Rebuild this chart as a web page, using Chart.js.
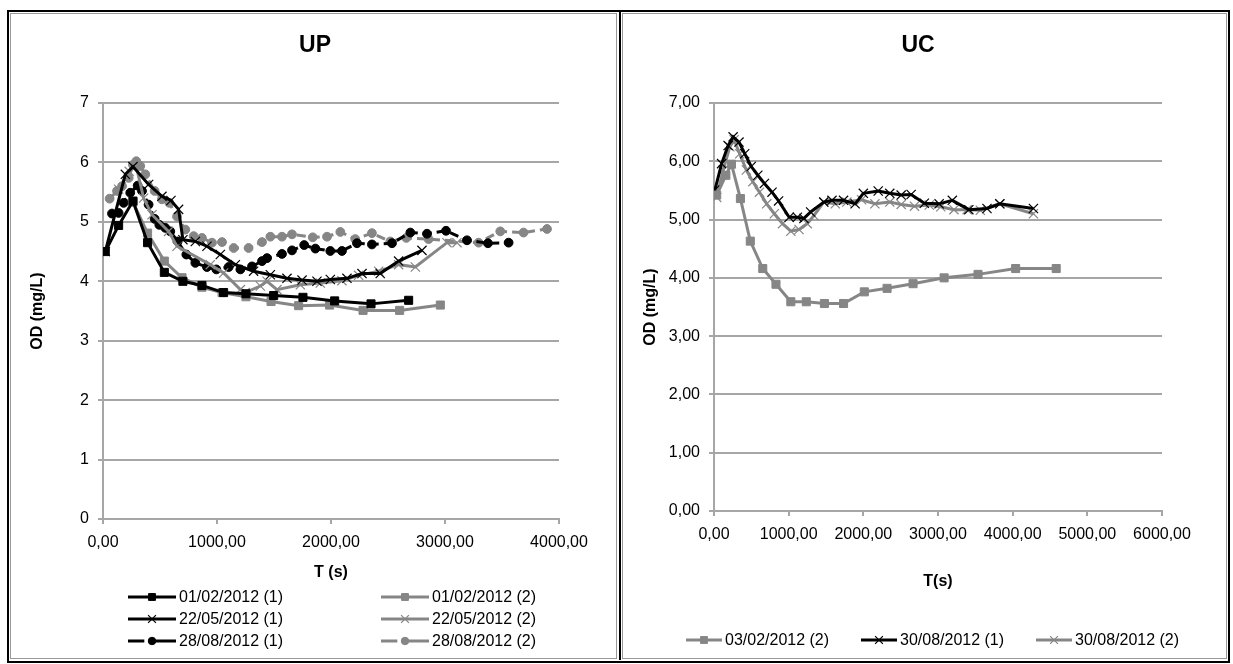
<!DOCTYPE html>
<html lang="en">
<head>
<meta charset="UTF-8">
<title>UP / UC</title>
<script src="https://cdn.jsdelivr.net/npm/chart.js"></script>
<style>
  body { margin: 0; background: #fff; }
  .page { position: relative; width: 1233px; height: 664px; }
  .frame { position: absolute; left: 7px; top: 10px; width: 1219px; height: 649px; border: 2px solid #000; }
  .cell { position: absolute; top: 13px; height: 644px; border: 1px solid #999; }
  .cell.left { left: 10px; width: 605px; }
  .cell.right { left: 622px; width: 603px; }
  .sep { position: absolute; left: 619px; top: 12px; width: 2px; height: 648px; background: #000; }
  canvas { position: absolute; top: 13px; }
</style>
</head>
<body>
<div class="page">
  <div class="frame"></div>
  <div class="cell left"></div>
  <div class="sep"></div>
  <div class="cell right"></div>
  <canvas id="upChart" width="604" height="645" style="left:10px"></canvas>
  <canvas id="ucChart" width="603" height="645" style="left:623px"></canvas>
</div>
<script>
// ---- UP data ----
const upLabels = ['01/02/2012 (1)', '01/02/2012 (2)', '22/05/2012 (1)', '22/05/2012 (2)', '28/08/2012 (1)', '28/08/2012 (2)'];

const up0102a_t = [20, 137, 263, 391, 538, 701, 868, 1058, 1254, 1497, 1754, 2032, 2351, 2681];
const up0102a_od = [4.50, 4.94, 5.35, 4.65, 4.15, 4.00, 3.93, 3.81, 3.79, 3.76, 3.73, 3.67, 3.62, 3.68];

const up0102b_t = [263, 391, 538, 693, 868, 1044, 1254, 1474, 1716, 1988, 2281, 2602, 2959];
const up0102b_od = [5.33, 4.81, 4.34, 4.06, 3.90, 3.81, 3.74, 3.66, 3.59, 3.60, 3.51, 3.51, 3.60];

const up2205a_t = [20, 196, 263, 400, 517, 596, 663, 701, 810, 912, 1029, 1161, 1321, 1468, 1614, 1746, 1877, 1994, 2140, 2272, 2432, 2593, 2798];
const up2205a_od = [4.50, 5.80, 5.93, 5.63, 5.43, 5.36, 5.21, 4.70, 4.67, 4.59, 4.45, 4.28, 4.17, 4.11, 4.05, 4.02, 4.00, 4.03, 4.05, 4.13, 4.13, 4.34, 4.52];

const up2205b_t = [137, 230, 290, 356, 430, 575, 649, 941, 1058, 1205, 1248, 1380, 1439, 1526, 1731, 1906, 2096, 2242, 2418, 2593, 2740, 3017, 3105];
const up2205b_od = [5.55, 5.85, 5.95, 5.40, 5.12, 4.84, 4.59, 4.28, 4.14, 3.86, 3.81, 3.92, 4.00, 3.86, 3.94, 3.97, 4.01, 4.10, 4.17, 4.28, 4.24, 4.65, 4.65];

const up2808a_t = [79, 137, 181, 239, 304, 342, 400, 453, 494, 546, 590, 655, 731, 810, 912, 994, 1102, 1205, 1307, 1395, 1439, 1570, 1658, 1765, 1863, 1994, 2096, 2228, 2359, 2535, 2696, 2842, 3009, 3193, 3377, 3558];
const up2808a_od = [5.14, 5.15, 5.32, 5.49, 5.61, 5.52, 5.29, 5.05, 4.95, 4.90, 4.84, 4.67, 4.45, 4.31, 4.24, 4.20, 4.24, 4.20, 4.25, 4.34, 4.39, 4.46, 4.52, 4.61, 4.55, 4.51, 4.51, 4.64, 4.62, 4.64, 4.82, 4.80, 4.85, 4.69, 4.64, 4.65];

const up2808b_t = [58, 123, 167, 225, 263, 292, 327, 371, 453, 517, 582, 649, 722, 795, 868, 956, 1044, 1146, 1277, 1395, 1468, 1570, 1658, 1840, 1965, 2082, 2213, 2359, 2520, 2661, 2856, 3295, 3485, 3689, 3895];
const up2808b_od = [5.39, 5.52, 5.60, 5.74, 5.96, 6.02, 5.94, 5.80, 5.52, 5.38, 5.32, 5.09, 4.87, 4.76, 4.73, 4.65, 4.66, 4.56, 4.56, 4.66, 4.75, 4.75, 4.79, 4.74, 4.75, 4.83, 4.71, 4.81, 4.67, 4.73, 4.71, 4.65, 4.84, 4.82, 4.88];

// ---- UC data ----
const ucLabels = ['03/02/2012 (2)', '30/08/2012 (1)', '30/08/2012 (2)'];

const uc0302b_t = [36, 159, 234, 354, 486, 653, 830, 1029, 1236, 1479, 1735, 2013, 2318, 2666, 3082, 3536, 4040, 4583];
const uc0302b_od = [5.42, 5.76, 5.95, 5.36, 4.63, 4.16, 3.89, 3.59, 3.59, 3.56, 3.56, 3.76, 3.82, 3.90, 4.00, 4.06, 4.16, 4.16];

const uc3008a_t = [13, 102, 189, 256, 335, 411, 499, 587, 675, 777, 865, 1007, 1117, 1205, 1294, 1470, 1580, 1735, 1890, 2000, 2199, 2354, 2507, 2640, 2817, 3015, 3192, 3413, 3656, 3828, 4278];
const uc3008a_od = [5.51, 5.96, 6.27, 6.42, 6.33, 6.13, 5.91, 5.76, 5.62, 5.47, 5.32, 5.04, 5.04, 5.02, 5.13, 5.30, 5.33, 5.33, 5.27, 5.45, 5.49, 5.45, 5.42, 5.43, 5.28, 5.27, 5.33, 5.17, 5.19, 5.27, 5.19];

const uc3008b_t = [36, 123, 212, 269, 344, 433, 521, 609, 706, 808, 918, 1029, 1139, 1249, 1338, 1470, 1625, 1779, 1977, 2155, 2354, 2507, 2685, 2883, 3037, 3214, 3391, 3567, 3828, 4278];
const uc3008b_od = [5.38, 5.85, 6.25, 6.37, 6.13, 5.85, 5.65, 5.47, 5.27, 5.10, 4.93, 4.80, 4.83, 4.93, 5.07, 5.30, 5.27, 5.30, 5.34, 5.27, 5.30, 5.26, 5.23, 5.25, 5.22, 5.17, 5.17, 5.16, 5.27, 5.10];

const FONT = '"Liberation Sans", Arial, sans-serif';
const BLACK = '#000000';
const GREY = '#868686';
const GRID = '#a6a6a6';

function pts(t, v) {
  return t.map((x, i) => ({ x: x, y: v[i] }));
}

function series(label, t, v, color, marker, dashed) {
  const sizes = { rect: 5.7, crossRot: 6.5, circle: 4.4 };
  return {
    label: label,
    data: pts(t, v),
    borderColor: color,
    backgroundColor: color,
    borderWidth: 3,
    borderDash: dashed ? [9, 5] : [],
    pointStyle: marker,
    pointRadius: sizes[marker],
    pointBorderWidth: marker === 'crossRot' ? 1.2 : 1,
    pointBackgroundColor: color,
    pointBorderColor: color,
    tension: 0,
    fill: false
  };
}

function comma(v) {
  return v.toFixed(2).replace('.', ',');
}

// chart title placed where the spreadsheet put it
const panelTitle = {
  id: 'panelTitle',
  afterDraw(chart, args, o) {
    const ctx = chart.ctx;
    ctx.save();
    ctx.fillStyle = '#000';
    ctx.font = 'bold 23px ' + FONT;
    ctx.textAlign = 'center';
    ctx.textBaseline = 'middle';
    ctx.fillText(o.text, o.x, o.y);
    ctx.restore();
  }
};

// legend drawn as line + marker samples, like the spreadsheet legend
const sampleLegend = {
  id: 'sampleLegend',
  afterDraw(chart, args, o) {
    const ctx = chart.ctx;
    chart.data.datasets.forEach((ds, i) => {
      const col = i % o.cols;
      const row = Math.floor(i / o.cols);
      const x = o.x + col * o.colWidth;
      const y = o.y + row * o.rowHeight;
      ctx.save();
      ctx.strokeStyle = ds.borderColor;
      ctx.lineWidth = ds.borderWidth;
      ctx.setLineDash(ds.borderDash.length ? [o.sample * 0.34, o.sample * 0.09, o.sample] : []);
      ctx.beginPath();
      ctx.moveTo(x, y);
      ctx.lineTo(x + o.sample, y);
      ctx.stroke();
      ctx.setLineDash([]);
      ctx.fillStyle = ds.pointBackgroundColor;
      ctx.strokeStyle = ds.pointBorderColor;
      ctx.lineWidth = ds.pointBorderWidth;
      Chart.helpers.drawPoint(ctx, {
        pointStyle: ds.pointStyle, radius: ds.pointRadius * 0.85, rotation: 0, borderWidth: ds.pointBorderWidth
      }, x + o.sample / 2, y);
      ctx.fillStyle = '#000';
      ctx.font = '16px ' + FONT;
      ctx.textBaseline = 'middle';
      ctx.textAlign = 'left';
      ctx.fillText(ds.label, x + o.sample + 3, y + 1);
      ctx.restore();
    });
  }
};

function makeChart(id, datasets, xMax, yFmt, box, title, legend) {
  return new Chart(document.getElementById(id), {
    type: 'line',
    data: { datasets: datasets },
    plugins: [panelTitle, sampleLegend],
    options: {
      responsive: false,
      animation: false,
      layout: { padding: { left: 0, top: box.top, right: box.right, bottom: box.bottom } },
      plugins: {
        legend: { display: false },
        tooltip: { enabled: false },
        title: { display: false },
        panelTitle: title,
        sampleLegend: legend
      },
      scales: {
        x: {
          type: 'linear', min: 0, max: xMax,
          afterFit: s => { s.height = box.xHeight; },
          border: { color: GRID, width: 2 },
          grid: { drawOnChartArea: false, color: GRID, lineWidth: 2, tickLength: 5 },
          ticks: { stepSize: 1000, color: '#000', font: { family: FONT, size: 16 }, padding: 9, maxRotation: 0,
                   callback: v => comma(v) },
          title: { display: true, text: box.xTitle, color: '#000', font: { family: FONT, size: 16, weight: 'bold' },
                   padding: { top: 0, bottom: 0 } }
        },
        y: {
          min: 0, max: 7,
          afterFit: s => { s.width = box.yWidth; },
          border: { color: GRID, width: 2 },
          grid: { color: GRID, lineWidth: 2, tickLength: 5 },
          ticks: { stepSize: 1, color: '#000', font: { family: FONT, size: 16 }, padding: 9,
                   callback: yFmt },
          title: { display: true, text: 'OD (mg/L)', color: '#000', font: { family: FONT, size: 16, weight: 'bold' },
                   padding: { top: 18, bottom: 0 } }
        }
      }
    }
  });
}

makeChart('upChart', [
  series(upLabels[0], up0102a_t, up0102a_od, BLACK, 'rect', false),
  series(upLabels[1], up0102b_t, up0102b_od, GREY, 'rect', false),
  series(upLabels[2], up2205a_t, up2205a_od, BLACK, 'crossRot', false),
  series(upLabels[3], up2205b_t, up2205b_od, GREY, 'crossRot', false),
  series(upLabels[4], up2808a_t, up2808a_od, BLACK, 'circle', true),
  series(upLabels[5], up2808b_t, up2808b_od, GREY, 'circle', true)
], 4000, v => String(v),
  { top: 90, right: 55, bottom: 76, xHeight: 63, yWidth: 93, xTitle: 'T (s)' },
  { text: 'UP', x: 305, y: 33 },
  { x: 118, y: 584, cols: 2, colWidth: 253, rowHeight: 22, sample: 48 });

makeChart('ucChart', [
  series(ucLabels[0], uc0302b_t, uc0302b_od, GREY, 'rect', false),
  series(ucLabels[1], uc3008a_t, uc3008a_od, BLACK, 'crossRot', false),
  series(ucLabels[2], uc3008b_t, uc3008b_od, GREY, 'crossRot', false)
], 6000, v => comma(v),
  { top: 90, right: 64, bottom: 67, xHeight: 80, yWidth: 91, xTitle: 'T(s)' },
  { text: 'UC', x: 295, y: 33 },
  { x: 63, y: 627, cols: 3, colWidth: 175, rowHeight: 22, sample: 36 });
</script>
</body>
</html>
